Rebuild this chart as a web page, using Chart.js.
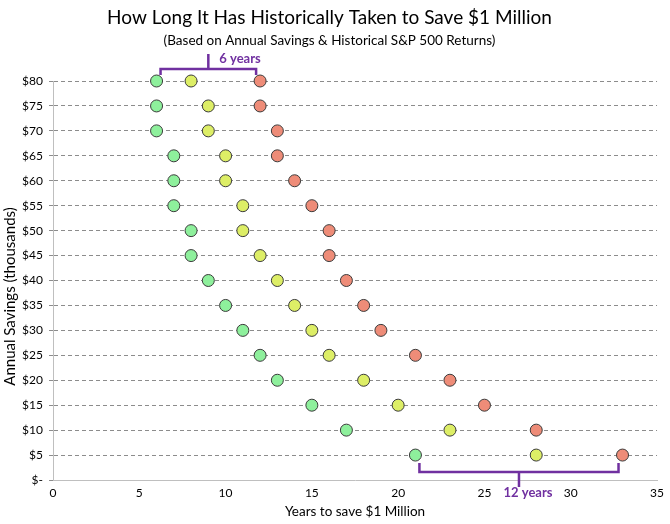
<!DOCTYPE html>
<html>
<head>
<meta charset="utf-8">
<script src="https://cdn.jsdelivr.net/npm/chart.js@4/dist/chart.umd.min.js"></script>
<style>
  html, body { margin: 0; padding: 0; background: #fff; }
  #wrap { width: 670px; height: 524px; }
</style>
</head>
<body>
<div id="wrap"><canvas id="millionChart" width="670" height="524"></canvas></div>
<script>
// Annual savings (thousands) and years needed to reach $1M
const savings = [80, 75, 70, 65, 60, 55, 50, 45, 40, 35, 30, 25, 20, 15, 10, 5];
const fastestYears = [6, 6, 6, 7, 7, 7, 8, 8, 9, 10, 11, 12, 13, 15, 17, 21];
const medianYears = [8, 9, 9, 10, 10, 11, 11, 12, 13, 14, 15, 16, 18, 20, 23, 28];
const slowestYears = [12, 12, 13, 13, 14, 15, 16, 16, 17, 18, 19, 21, 23, 25, 28, 33];

// Range brackets shown on the chart
const brackets = [
    { savings: 80, from: 6, to: 12, label: '6 years', side: 'top' },
    { savings: 5, from: 21, to: 33, label: '12 years', side: 'bottom' }
];

const font = 'Lato';
const purple = '#7030A0';
const yTitle = 'Annual Savings (thousands)';

function toPoints(years) {
    return savings.map((s, i) => ({ x: years[i], y: s }));
}

// Draws the purple range brackets and the y axis title
const bracketPlugin = {
    id: 'brackets',
    afterDatasetsDraw(chart) {
        const ctx = chart.ctx;
        const xs = chart.scales.x, ys = chart.scales.y;
        ctx.save();
        ctx.strokeStyle = purple;
        ctx.fillStyle = purple;
        ctx.lineWidth = 2.5;
        ctx.font = 'bold 13px ' + font;
        ctx.textBaseline = 'middle';
        brackets.forEach(b => {
            const x1 = xs.getPixelForValue(b.from) + 4;
            const x2 = xs.getPixelForValue(b.to) - 4;
            const mid = (x1 + x2) / 2;
            const y = ys.getPixelForValue(b.savings);
            ctx.beginPath();
            if (b.side === 'top') {
                const h = y - 12;
                ctx.moveTo(x1, y - 6); ctx.lineTo(x1, h); ctx.lineTo(x2, h); ctx.lineTo(x2, y - 6);
                ctx.moveTo(mid, h); ctx.lineTo(mid, h - 15);
                ctx.stroke();
                ctx.textAlign = 'left';
                ctx.fillText(b.label, mid + 11, y - 22);
            } else {
                const h = y + 17;
                ctx.moveTo(x1, y + 8); ctx.lineTo(x1, h); ctx.lineTo(x2, h); ctx.lineTo(x2, y + 8);
                ctx.moveTo(mid, h); ctx.lineTo(mid, h + 15);
                ctx.stroke();
                ctx.textAlign = 'center';
                ctx.fillText(b.label, mid + 9, y + 38);
            }
        });
        // y axis title, placed a little below the plot middle like the original
        ctx.fillStyle = '#000';
        ctx.font = '15px ' + font;
        ctx.textAlign = 'center';
        ctx.translate(10, (chart.chartArea.top + chart.chartArea.bottom) / 2 + 16);
        ctx.rotate(-Math.PI / 2);
        ctx.fillText(yTitle, 0, 0);
        ctx.restore();
    }
};

const ctx = document.getElementById('millionChart').getContext('2d');
const millionChart = new Chart(ctx, {
    type: 'scatter',
    data: {
        datasets: [{
            label: 'Fastest',
            data: toPoints(fastestYears),
            backgroundColor: '#8EF09C',
        }, {
            label: 'Median',
            data: toPoints(medianYears),
            backgroundColor: '#DDEE66',
        }, {
            label: 'Slowest',
            data: toPoints(slowestYears),
            backgroundColor: '#EE8C78',
        }]
    },
    options: {
        responsive: false,
        animation: false,
        clip: false,
        elements: {
            point: { radius: 6, hoverRadius: 6, borderWidth: 1, borderColor: '#3a3a3a' }
        },
        layout: { padding: { top: 0, right: 11, left: 0, bottom: 0 } },
        scales: {
            x: {
                min: 0, max: 35,
                ticks: { stepSize: 5, color: '#000', font: { family: font, size: 12 }, padding: 6 },
                grid: { drawOnChartArea: false, drawTicks: false },
                border: { color: '#bfbfbf', width: 1 },
                title: { display: true, text: 'Years to save $1 Million', color: '#000', font: { family: font, size: 13.5 }, padding: { top: 6 } },
                afterFit(scale) { scale.height = 44; }
            },
            y: {
                min: 0, max: 80,
                ticks: {
                    stepSize: 5, color: '#000', font: { family: font, size: 12 }, padding: 6,
                    callback: v => v === 0 ? '$-' : '$' + v
                },
                grid: {
                    color: ctx => ctx.tick && ctx.tick.value === 0 ? 'rgba(0,0,0,0)' : '#8c8c8c',
                    tickColor: '#8c8c8c',
                    tickLength: 4,
                    lineWidth: 1
                },
                border: { color: '#bfbfbf', width: 1, dash: [4, 3] },
                afterFit(scale) { scale.width = 53; }
            }
        },
        plugins: {
            legend: { display: false },
            tooltip: { enabled: false },
            title: {
                display: true,
                text: 'How Long It Has Historically Taken to Save $1 Million',
                color: '#000',
                font: { family: font, size: 19, weight: 'normal' },
                padding: { top: 6, bottom: 2 }
            },
            subtitle: {
                display: true,
                text: '(Based on Annual Savings & Historical S&P 500 Returns)',
                color: '#000',
                font: { family: font, size: 13.5 },
                padding: { top: 2, bottom: 32 }
            }
        }
    },
    plugins: [bracketPlugin]
});
</script>
</body>
</html>
